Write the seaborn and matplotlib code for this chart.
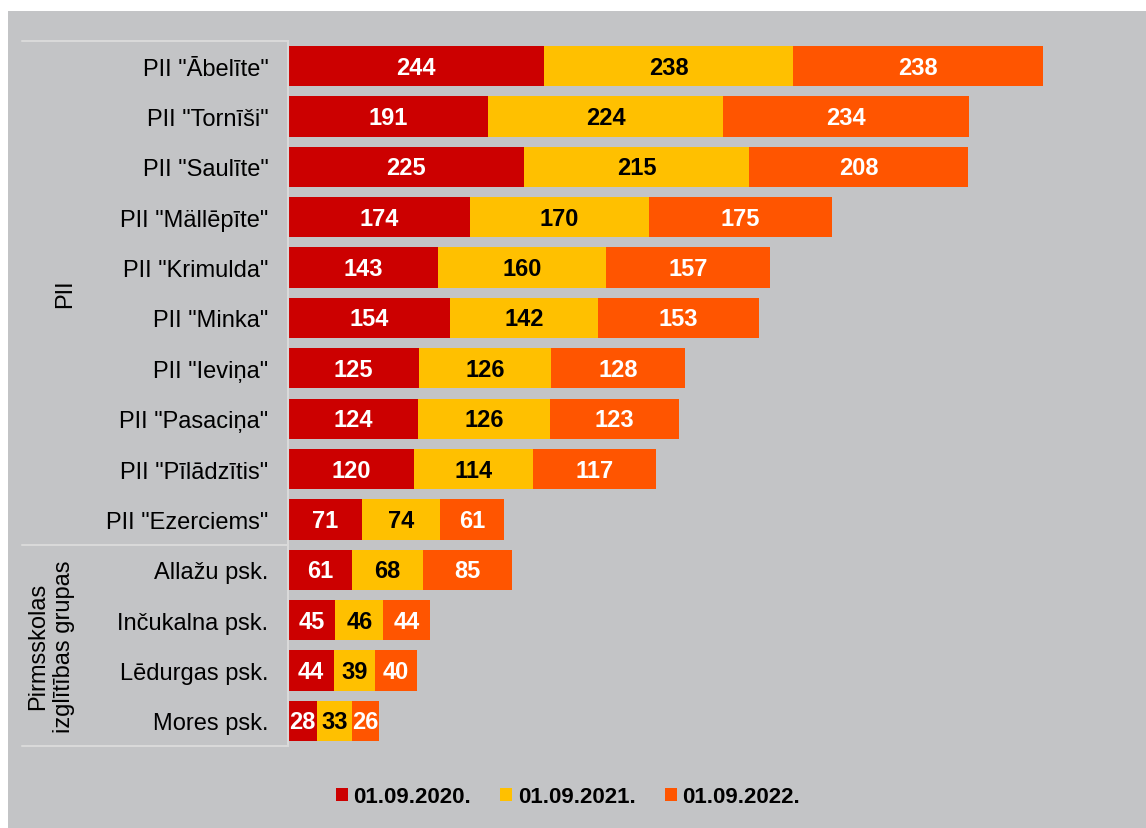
import matplotlib
matplotlib.use("Agg")
import matplotlib.pyplot as plt
import matplotlib.patches as mpatches
import matplotlib.transforms as mtransforms
import seaborn as sns
import pandas as pd
import numpy as np

categories = ['PII "Ābelīte"', 'PII "Tornīši"', 'PII "Saulīte"', 'PII "Mällēpīte"',
              'PII "Krimulda"', 'PII "Minka"', 'PII "Ieviņa"', 'PII "Pasaciņa"',
              'PII "Pīlādzītis"', 'PII "Ezerciems"', 'Allažu psk.', 'Inčukalna psk.',
              'Lēdurgas psk.', 'Mores psk.']
y2020 = [244, 191, 225, 174, 143, 154, 125, 124, 120, 71, 61, 45, 44, 28]
y2021 = [238, 224, 215, 170, 160, 142, 126, 126, 114, 74, 68, 46, 39, 33]
y2022 = [238, 234, 208, 175, 157, 153, 128, 123, 117, 61, 85, 44, 40, 26]
series_names = ["01.09.2020.", "01.09.2021.", "01.09.2022."]
group_names = ["PII", "Pirmsskolas\nizglītības grupas"]
group_sizes = [10, 4]

colors = ["#CC0000", "#FFC000", "#FF5500"]
text_colors = ["white", "black", "white"]
bg = "#C3C4C6"
line_c = "#D9D9D9"

sns.set_theme(style="white")
plt.rcParams["font.family"] = ["Liberation Sans", "DejaVu Sans"]
plt.rcParams["text.color"] = "black"

W, H = 1146, 829
fig = plt.figure(figsize=(W / 100, H / 100), dpi=100, facecolor="white")
fig.add_artist(mpatches.Rectangle((8 / W, 0), 1 - 8 / W, 1 - 12 / H,
                                  transform=fig.transFigure, facecolor=bg,
                                  edgecolor="none", zorder=0))

ax_left, ax_right = 288 / W, 1127 / W
ax_top, ax_bot = 1 - 42 / H, 1 - 747 / H
ax = fig.add_axes([ax_left, ax_bot, ax_right - ax_left, ax_top - ax_bot])
ax.set_facecolor("none")

vals = np.array([y2020, y2021, y2022])
cum = np.cumsum(vals, axis=0)
df = pd.DataFrame({"cat": categories})
# draw cumulative bars from longest to shortest so they stack visually
for i in [2, 1, 0]:
    df["v"] = cum[i]
    sns.barplot(data=df, x="v", y="cat", orient="h", color=colors[i],
                saturation=1, width=0.8, linewidth=0, ax=ax, zorder=2)

for i in range(3):
    starts = cum[i] - vals[i]
    for j, v in enumerate(vals[i]):
        ax.text(starts[j] + v / 2, j + 0.02, str(v), ha="center", va="center",
                fontsize=17, fontweight="bold", color=text_colors[i], zorder=3)

ax.set_xlim(0, 800)
ax.set_ylim(len(categories) - 0.5, -0.5)
ax.set_xlabel("")
ax.set_ylabel("")
ax.set_xticks([])
ax.tick_params(axis="y", length=0, labelsize=17, pad=14, labelcolor="black")
for s in ["top", "right", "bottom"]:
    ax.spines[s].set_visible(False)
ax.spines["left"].set_color(line_c)
ax.spines["left"].set_linewidth(1.5)

trans = mtransforms.blended_transform_factory(fig.transFigure, ax.transData)
bounds = [-0.5]
for g in group_sizes:
    bounds.append(bounds[-1] + g)
for b in bounds:
    ax.plot([22 / W, 287 / W], [b, b], transform=trans, color=line_c,
            lw=1.5, clip_on=False, zorder=1)

gx = [65 / W, 51 / W]
for k, name in enumerate(group_names):
    mid = (bounds[k] + bounds[k + 1]) / 2
    ax.text(gx[k], mid, name, transform=trans, rotation=90, ha="center",
            va="center", fontsize=17, color="black", linespacing=1.2)

handles = [mpatches.Patch(facecolor=c, edgecolor="none") for c in colors]
fig.legend(handles, series_names, loc="center", bbox_to_anchor=(568 / W, 1 - 798 / H),
           ncol=3, frameon=False, prop={"weight": "bold", "size": 16},
           labelcolor="black",
           handlelength=0.55, handleheight=0.55, handletextpad=0.25,
           columnspacing=1.3)

fig.savefig("out.png", dpi=100, facecolor="white")
